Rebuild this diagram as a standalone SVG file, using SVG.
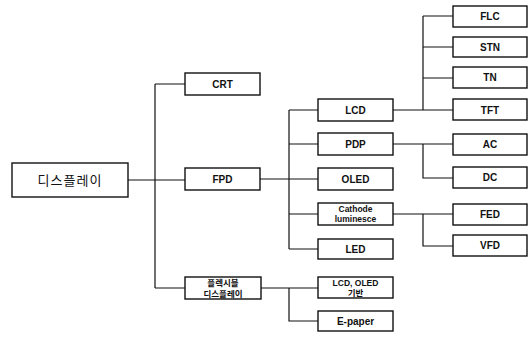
<svg xmlns="http://www.w3.org/2000/svg" width="532" height="337" viewBox="0 0 532 337">
<style>
.b{fill:#fff;stroke:#111;stroke-width:1.4}
.t{font-family:"Liberation Sans","Noto Sans CJK KR",sans-serif;font-weight:bold;font-size:10px;fill:#111;text-anchor:middle}
.s{font-size:8.5px}
.c{fill:none;stroke:#111;stroke-width:1.2}
</style>
<rect width="532" height="337" fill="#fff"/>
<g id="connectors">
<path class="c" d="M128,180H185M155,84V288M155,84H185M155,288H185"/>
<path class="c" d="M260,179H318M289,110V249M289,110H318M289,144H318M289,214H318M289,249H318"/>
<path class="c" d="M261,288H318M289,288V321H318"/>
<path class="c" d="M393,110H453M423,16V110M423,16H453M423,47H453M423,78H453"/>
<path class="c" d="M393,144H453M423,144V178H453"/>
<path class="c" d="M393,214H453M423,214V246H453"/>
</g>
<g id="root"><rect class="b" x="12" y="163" width="116" height="34"/><text class="t" x="70" y="185" style="font-size:13px;font-weight:normal;letter-spacing:1px">디스플레이</text></g>
<g id="crt"><rect class="b" x="185" y="73" width="75" height="22"/><text class="t" x="222.5" y="88">CRT</text></g>
<g id="fpd"><rect class="b" x="185" y="168" width="75" height="22"/><text class="t" x="222.5" y="183">FPD</text></g>
<g id="flexible"><rect class="b" x="185" y="277" width="76" height="22"/><text class="t s" x="223" y="286">플렉시블</text><text class="t s" x="223" y="297">디스플레이</text></g>
<g id="lcd"><rect class="b" x="318" y="99" width="75" height="22"/><text class="t" x="355.5" y="114">LCD</text></g>
<g id="pdp"><rect class="b" x="318" y="133" width="75" height="22"/><text class="t" x="355.5" y="148">PDP</text></g>
<g id="oled"><rect class="b" x="318" y="168" width="75" height="22"/><text class="t" x="355.5" y="183">OLED</text></g>
<g id="cathode"><rect class="b" x="318" y="203" width="75" height="22"/><text class="t s" x="355.5" y="212">Cathode</text><text class="t s" x="355.5" y="222">luminesce</text></g>
<g id="led"><rect class="b" x="318" y="239" width="75" height="20"/><text class="t" x="355.5" y="253">LED</text></g>
<g id="lcdoled"><rect class="b" x="318" y="277" width="75" height="21"/><text class="t s" x="355.5" y="286">LCD, OLED</text><text class="t s" x="355.5" y="296">기반</text></g>
<g id="epaper"><rect class="b" x="318" y="311" width="75" height="20"/><text class="t" x="355.5" y="325">E-paper</text></g>
<g id="flc"><rect class="b" x="453" y="6" width="74" height="21"/><text class="t" x="490" y="20">FLC</text></g>
<g id="stn"><rect class="b" x="453" y="37" width="74" height="20"/><text class="t" x="490" y="51">STN</text></g>
<g id="tn"><rect class="b" x="453" y="67" width="74" height="21"/><text class="t" x="490" y="81">TN</text></g>
<g id="tft"><rect class="b" x="453" y="99" width="74" height="21"/><text class="t" x="490" y="113.5">TFT</text></g>
<g id="ac"><rect class="b" x="453" y="134" width="74" height="21"/><text class="t" x="490" y="148">AC</text></g>
<g id="dc"><rect class="b" x="453" y="167" width="74" height="21"/><text class="t" x="490" y="181">DC</text></g>
<g id="fed"><rect class="b" x="453" y="204" width="74" height="21"/><text class="t" x="490" y="218">FED</text></g>
<g id="vfd"><rect class="b" x="453" y="235" width="74" height="21"/><text class="t" x="490" y="249">VFD</text></g>
</svg>
